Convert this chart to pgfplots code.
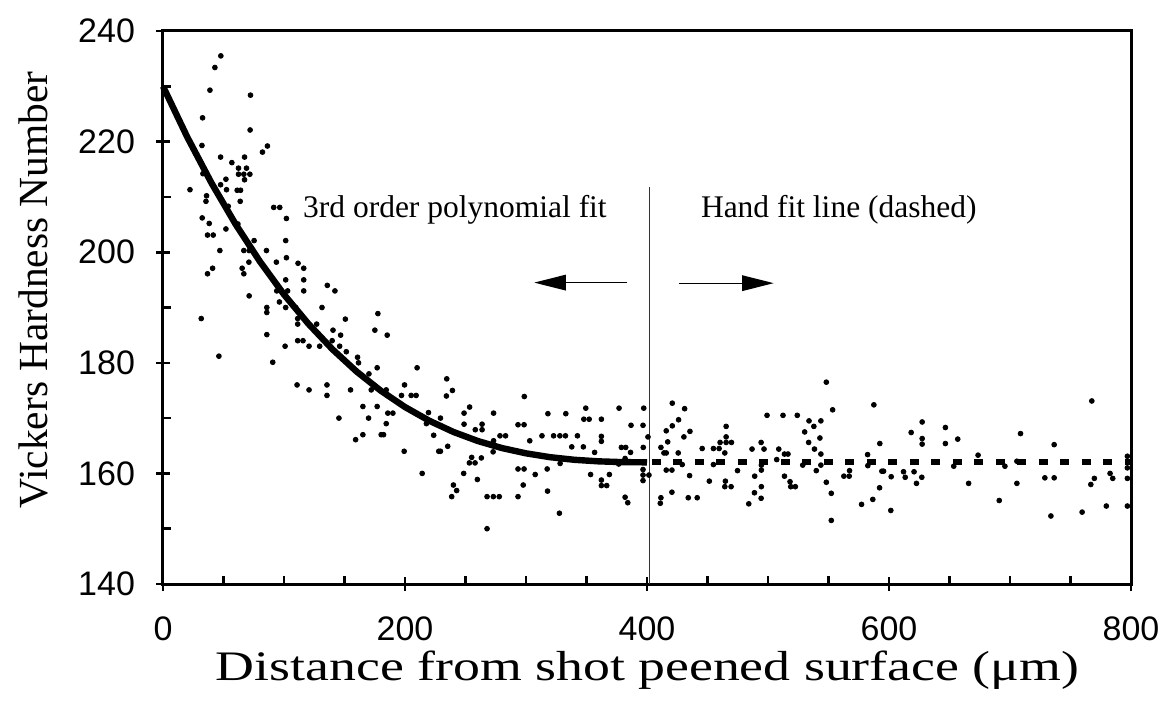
\documentclass[border=0pt]{standalone}
\usepackage{fontspec}
\setmainfont{Liberation Serif}
\newfontfamily\ticksans{Liberation Sans}
\usepackage{graphicx}
\usepackage{pgfplots}
\pgfplotsset{compat=1.18}
\usepackage{pgfplotstable}
\usetikzlibrary{arrows.meta}

\pgfplotstableread{
x y
47.8 235.5
42.9 233.4
38.8 229.3
72.3 228.4
32.7 224.3
72.0 222.1
86.3 219.2
82.2 218.1
32.2 219.3
47.6 217.2
67.4 217.2
56.9 216.2
62.4 215.2
69.0 215.2
62.4 214.1
66.8 214.1
71.8 214.1
33.0 214.2
67.4 213.1
52.0 213.2
47.6 212.2
22.3 211.3
52.5 211.3
61.3 211.2
64.1 211.2
36.0 210.2
35.5 209.2
63.8 209.2
53.9 208.3
91.5 208.1
96.5 208.1
32.4 206.2
102.0 206.1
38.2 205.2
61.9 205.1
52.0 204.2
36.8 203.1
41.5 203.1
101.4 202.1
75.3 202.1
47.0 200.3
66.8 200.3
71.2 200.3
85.5 200.3
93.7 198.2
102.0 199.0
111.6 198.0
116.3 197.1
71.0 198.2
41.0 197.1
65.4 197.1
36.8 196.1
66.8 196.1
116.3 195.0
116.3 193.0
101.4 195.0
71.2 192.1
94.0 193.0
103.0 193.0
135.8 194.0
142.1 193.0
96.2 191.0
85.8 190.0
85.8 189.1
101.4 190.0
109.7 190.0
111.3 188.0
111.3 187.0
131.4 190.0
31.6 188.0
150.7 187.9
177.6 188.9
127.0 187.0
140.5 185.9
175.1 185.9
146.8 185.0
185.3 185.0
85.8 185.1
111.3 184.0
115.7 184.0
139.8 184.0
100.9 183.0
120.7 183.0
129.5 183.0
146.0 183.0
151.5 182.0
160.8 181.0
46.2 181.2
90.7 180.1
161.6 180.0
177.0 179.1
170.2 178.0
110.8 176.0
135.5 176.0
120.7 175.1
155.0 175.1
172.1 175.1
184.5 175.1
135.5 174.1
165.2 172.1
177.0 172.1
185.8 170.9
190.0 170.9
145.4 170.0
169.9 170.0
184.5 169.0
165.2 167.0
180.3 167.0
182.3 167.0
159.2 166.1
210.0 179.1
234.5 177.1
199.6 176.0
239.2 175.0
197.1 174.1
205.1 174.1
209.2 174.1
234.2 174.0
298.6 173.9
253.4 172.0
219.4 171.0
248.8 170.9
273.2 170.9
318.1 170.8
332.9 170.8
376.9 171.8
397.3 171.8
349.4 171.8
347.8 169.8
352.2 169.8
362.3 169.8
229.3 170.0
217.7 169.0
248.8 168.9
263.7 168.9
293.4 168.8
298.4 168.8
386.8 168.7
396.7 168.7
258.1 167.9
263.7 167.9
223.7 166.9
278.5 166.8
283.1 166.8
313.2 166.8
322.8 166.8
328.0 166.8
332.6 166.8
342.5 166.8
362.3 166.7
362.3 165.8
400.8 166.6
303.1 165.9
273.2 165.9
337.8 164.8
347.4 164.8
378.8 164.7
382.4 164.7
396.9 164.7
199.3 164.0
227.9 164.0
229.3 164.0
235.3 164.9
272.8 163.9
356.7 163.8
386.4 163.8
255.1 162.9
263.1 162.8
253.2 161.9
257.9 161.9
328.2 161.8
381.9 162.7
376.6 161.7
214.2 160.0
248.5 160.0
293.4 160.8
298.4 160.8
317.5 160.8
307.6 159.8
353.4 159.8
368.9 159.8
396.7 160.7
396.7 159.7
396.7 158.7
362.3 158.8
362.3 157.8
366.7 157.8
259.8 158.9
297.7 157.9
240.0 157.9
242.7 156.9
238.6 155.8
267.8 155.8
273.0 155.8
277.9 155.8
293.4 155.8
317.8 156.8
381.9 155.7
384.1 154.7
327.6 152.8
267.8 150.0
401.6 159.7
420.9 172.7
431.1 171.7
426.1 169.7
420.9 168.6
415.9 167.7
435.5 167.6
430.5 166.6
417.1 165.7
411.5 164.7
414.0 163.7
415.9 163.7
425.8 163.7
429.1 161.6
415.9 160.6
420.6 160.6
435.2 159.6
420.6 156.6
411.5 155.6
411.0 154.6
434.1 155.6
441.5 155.6
445.6 164.5
451.5 158.6
454.9 164.5
459.6 164.5
460.4 165.6
465.4 168.5
465.4 166.6
465.4 165.6
469.8 165.6
464.3 163.7
454.9 161.6
474.8 160.5
464.8 158.6
464.3 157.6
469.5 157.6
486.8 164.4
494.3 165.6
496.7 164.4
494.5 161.5
494.5 160.6
489.0 159.5
494.5 157.6
488.8 156.5
484.1 154.5
494.3 155.5
499.2 170.5
512.4 170.5
524.2 170.5
508.9 164.4
513.6 163.5
516.5 163.5
507.2 162.5
513.6 159.5
518.2 158.5
518.8 157.6
522.6 157.6
528.7 161.5
530.3 167.5
533.9 169.5
537.9 168.5
543.7 169.5
533.6 165.6
542.9 166.4
538.4 164.4
543.7 163.5
543.7 161.5
539.9 160.5
548.2 176.5
553.4 171.5
548.2 158.4
552.3 156.4
552.3 151.5
562.7 159.5
567.1 159.5
567.4 160.5
577.3 154.4
582.3 163.4
582.5 161.4
587.5 172.4
592.4 165.4
586.6 155.3
592.2 157.4
594.1 160.4
595.5 160.4
601.8 159.4
601.5 153.3
612.0 160.3
613.4 159.3
618.3 167.4
620.7 160.3
622.7 158.2
627.1 159.3
627.4 169.3
627.4 166.3
627.4 165.3
646.6 168.3
646.6 165.4
653.5 161.3
656.8 166.2
665.8 158.2
673.6 163.3
691.1 155.1
695.8 161.3
705.7 162.2
705.7 158.2
708.7 167.2
728.8 159.2
736.5 159.2
736.5 165.2
733.8 152.3
759.6 153.0
767.6 173.1
766.8 158.0
769.7 159.1
779.6 154.1
782.7 160.0
784.9 159.1
797.0 163.1
797.0 161.0
797.0 159.1
797.0 154.1
}\hardness

\begin{document}
\begin{tikzpicture}
\useasboundingbox (-81.5pt,-64.5pt) rectangle (498pt,292pt);
\begin{axis}[
  at={(0,0)}, anchor=south west,
  scale only axis, width=484pt, height=276.5pt,
  xmin=0, xmax=800, ymin=140, ymax=240,
  xtick={0,200,...,800}, ytick={140,160,...,240},
  extra x ticks={50,100,150,250,300,350,450,500,550,650,700,750},
  extra x tick labels={},
  extra x tick style={tick align=inside, major tick length=4pt},
  extra y ticks={150,170,190,210,230},
  extra y tick labels={},
  extra y tick style={tick align=inside, major tick length=4pt},
  tick align=center, major tick length=7pt,
  xtick pos=bottom, ytick pos=left,
  axis line style={line width=1.5pt},
  every tick/.style={black, line width=1.3pt},
  tick label style={font=\ticksans\fontsize{17}{20}\selectfont},
  /pgf/number format/assume math mode=true,
  yticklabel style={xshift=-7pt},
  xticklabel style={yshift=-9.5pt},
  clip=false,
  xlabel={\scalebox{1.28}[1]{Distance from shot peened surface (μm)}},
  ylabel={Vickers Hardness Number},
  xlabel style={font=\fontsize{21}{24}\selectfont, at={(axis description cs:0.5005,-0.156)}, anchor=center},
  ylabel style={font=\fontsize{20.7}{24}\selectfont, at={(axis description cs:-0.134,0.532)}, anchor=center},
]
\addplot[only marks, mark=*, mark size=1.2pt, black] table {\hardness};
\addplot[black, line width=3.2pt, line join=round] coordinates {
(0,230.0) (20,220.84) (40,212.54) (60,205.06) (80,198.35) (100,192.35)
(120,187.09) (140,182.45) (160,178.42) (180,174.95) (200,172.0)
(220,169.53) (240,167.50) (260,165.87) (280,164.59) (300,163.63)
(320,162.93) (340,162.46) (360,162.18) (380,162.04) (400,162.0)};
\addplot[black, line width=3pt, dash pattern=on 4.5pt off 6.25pt] coordinates {(404,162) (800,162)};
\draw[line width=0.6pt, black!80] (axis cs:402,211.8) -- (axis cs:402,140);
\draw[-{Triangle[length=15.8pt,width=7.8pt]}, line width=0.6pt] (axis cs:383.5,194.5) -- (axis cs:306.8,194.5);
\draw[-{Triangle[length=15.8pt,width=7.8pt]}, line width=0.6pt] (axis cs:426.4,194.4) -- (axis cs:504.7,194.4);
\node[anchor=base west, font=\fontsize{15.75}{18}\selectfont, inner sep=0pt] at (axis cs:115.5,206.2) {3rd order polynomial fit};
\node[anchor=base west, font=\fontsize{15.75}{18}\selectfont, inner sep=0pt] at (axis cs:444.3,206.2) {Hand fit line (dashed)};
\end{axis}
\end{tikzpicture}
\end{document}
